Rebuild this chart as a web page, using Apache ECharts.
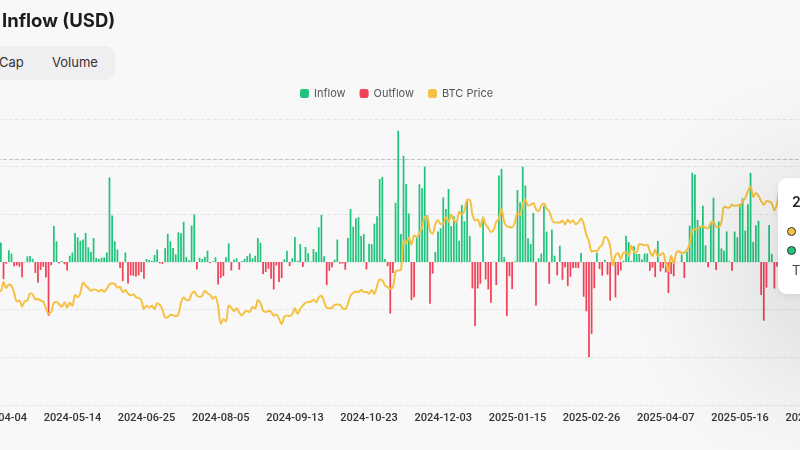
<!DOCTYPE html>
<html>
<head>
<meta charset="utf-8">
<script src="https://cdn.jsdelivr.net/npm/echarts@6/dist/echarts.min.js"></script>
<style>
  html, body { margin:0; padding:0; width:800px; height:450px; overflow:hidden; background:#f8f8f8; font-family: Inter, "Noto Sans", sans-serif; }
  #title { position:absolute; left:2px; top:9px; font-size:18.5px; font-weight:700; color:#1c1c1c; }
  #tabs { position:absolute; left:-70px; top:46px; width:185px; height:34px; background:#efeff1; border-radius:9px; }
  .tab { position:absolute; top:54px; font-size:13px; color:#333; }
  #chart { position:absolute; left:-40px; top:0; width:900px; height:450px; }
  #tip { position:absolute; left:778px; top:178px; width:190px; height:116px; background:#fff; border-radius:9px;
         box-shadow: 0 40px 140px 40px rgba(0,0,0,0.12), 0 2px 8px rgba(0,0,0,0.08); font-size:13px; color:#222; }
  #tip .d { position:absolute; left:14px; top:15px; font-size:14px; font-weight:600; }
  #tip .row { position:absolute; left:9px; }
  #tip .dot { display:inline-block; width:7px; height:7px; border-radius:50%; border:1.5px solid #333; vertical-align:middle; margin-right:8px; }
  #tip .t { position:absolute; left:14px; top:84px; font-size:13px; color:#444; }
</style>
</head>
<body>
<div id="chart"></div>
<div id="title">Inflow (USD)</div>
<div id="tabs"></div>
<div class="tab" style="left:-1px">Cap</div>
<div class="tab" style="left:52px">Volume</div>
<div id="tip">
  <div class="d">2025-06-05</div>
  <div class="row" style="top:44px"><span class="dot" style="background:#f5c142"></span>BTC Price</div>
  <div class="row" style="top:63px"><span class="dot" style="background:#22c47d"></span>Inflow</div>
  <div class="t">Total</div>
</div>
<script>
// Trading days (US spot BTC ETF flow dates)
const categories = [
"2024-04-04","2024-04-05","2024-04-08","2024-04-09","2024-04-10","2024-04-11","2024-04-12","2024-04-15","2024-04-16","2024-04-17","2024-04-18","2024-04-19","2024-04-22","2024-04-23","2024-04-24","2024-04-25","2024-04-26","2024-04-29","2024-04-30",
"2024-05-01","2024-05-02","2024-05-03","2024-05-06","2024-05-07","2024-05-08","2024-05-09","2024-05-10","2024-05-13","2024-05-14","2024-05-15","2024-05-16","2024-05-17","2024-05-20","2024-05-21","2024-05-22","2024-05-23","2024-05-24","2024-05-28","2024-05-29","2024-05-30","2024-05-31",
"2024-06-03","2024-06-04","2024-06-05","2024-06-06","2024-06-07","2024-06-10","2024-06-11","2024-06-12","2024-06-13","2024-06-14","2024-06-17","2024-06-18","2024-06-20","2024-06-21","2024-06-24","2024-06-25","2024-06-26","2024-06-27","2024-06-28",
"2024-07-01","2024-07-02","2024-07-03","2024-07-05","2024-07-08","2024-07-09","2024-07-10","2024-07-11","2024-07-12","2024-07-15","2024-07-16","2024-07-17","2024-07-18","2024-07-19","2024-07-22","2024-07-23","2024-07-24","2024-07-25","2024-07-26","2024-07-29","2024-07-30","2024-07-31",
"2024-08-01","2024-08-02","2024-08-05","2024-08-06","2024-08-07","2024-08-08","2024-08-09","2024-08-12","2024-08-13","2024-08-14","2024-08-15","2024-08-16","2024-08-19","2024-08-20","2024-08-21","2024-08-22","2024-08-23","2024-08-26","2024-08-27","2024-08-28","2024-08-29","2024-08-30",
"2024-09-03","2024-09-04","2024-09-05","2024-09-06","2024-09-09","2024-09-10","2024-09-11","2024-09-12","2024-09-13","2024-09-16","2024-09-17","2024-09-18","2024-09-19","2024-09-20","2024-09-23","2024-09-24","2024-09-25","2024-09-26","2024-09-27","2024-09-30",
"2024-10-01","2024-10-02","2024-10-03","2024-10-04","2024-10-07","2024-10-08","2024-10-09","2024-10-10","2024-10-11","2024-10-14","2024-10-15","2024-10-16","2024-10-17","2024-10-18","2024-10-21","2024-10-22","2024-10-23","2024-10-24","2024-10-25","2024-10-28","2024-10-29","2024-10-30","2024-10-31",
"2024-11-01","2024-11-04","2024-11-05","2024-11-06","2024-11-07","2024-11-08","2024-11-11","2024-11-12","2024-11-13","2024-11-14","2024-11-15","2024-11-18","2024-11-19","2024-11-20","2024-11-21","2024-11-22","2024-11-25","2024-11-26","2024-11-27","2024-11-29",
"2024-12-02","2024-12-03","2024-12-04","2024-12-05","2024-12-06","2024-12-09","2024-12-10","2024-12-11","2024-12-12","2024-12-13","2024-12-16","2024-12-17","2024-12-18","2024-12-19","2024-12-20","2024-12-23","2024-12-24","2024-12-26","2024-12-27","2024-12-30","2024-12-31",
"2025-01-02","2025-01-03","2025-01-06","2025-01-07","2025-01-08","2025-01-10","2025-01-13","2025-01-14","2025-01-15","2025-01-16","2025-01-17","2025-01-21","2025-01-22","2025-01-23","2025-01-24","2025-01-27","2025-01-28","2025-01-29","2025-01-30","2025-01-31",
"2025-02-03","2025-02-04","2025-02-05","2025-02-06","2025-02-07","2025-02-10","2025-02-11","2025-02-12","2025-02-13","2025-02-14","2025-02-18","2025-02-19","2025-02-20","2025-02-21","2025-02-24","2025-02-25","2025-02-26","2025-02-27","2025-02-28",
"2025-03-03","2025-03-04","2025-03-05","2025-03-06","2025-03-07","2025-03-10","2025-03-11","2025-03-12","2025-03-13","2025-03-14","2025-03-17","2025-03-18","2025-03-19","2025-03-20","2025-03-21","2025-03-24","2025-03-25","2025-03-26","2025-03-27","2025-03-28","2025-03-31",
"2025-04-01","2025-04-02","2025-04-03","2025-04-04","2025-04-07","2025-04-08","2025-04-09","2025-04-10","2025-04-11","2025-04-14","2025-04-15","2025-04-16","2025-04-17","2025-04-21","2025-04-22","2025-04-23","2025-04-24","2025-04-25","2025-04-28","2025-04-29","2025-04-30",
"2025-05-01","2025-05-02","2025-05-05","2025-05-06","2025-05-07","2025-05-08","2025-05-09","2025-05-12","2025-05-13","2025-05-14","2025-05-15","2025-05-16","2025-05-19","2025-05-20","2025-05-21","2025-05-22","2025-05-23","2025-05-27","2025-05-28","2025-05-29","2025-05-30",
"2025-06-02","2025-06-03","2025-06-04","2025-06-05","2025-06-06","2025-06-09","2025-06-10","2025-06-11","2025-06-12","2025-06-13","2025-06-16","2025-06-17","2025-06-18","2025-06-20","2025-06-23","2025-06-24","2025-06-25","2025-06-26","2025-06-27","2025-06-30"
];

// Daily net flow, USD millions
const netFlow = [
113,205,-180,-18,124,89,-45,-36,-50,-161,
-3,60,62,35,-115,-218,-84,-50,-162,-564,
-34,378,217,-15,10,-25,-88,66,100,303,
257,222,237,305,154,108,252,42,31,45,
49,101,887,488,217,131,-64,-200,100,-226,
-140,-145,-152,-140,-106,-175,31,21,12,73,
129,-14,-20,143,295,216,147,79,310,301,
422,53,19,383,500,-78,44,31,55,119,
-12,8,50,-237,-168,-148,50,195,-89,27,
39,-81,11,33,62,88,39,65,252,202,
-127,-105,-71,-175,-288,-37,-211,-169,28,117,
-43,39,263,13,187,-52,158,92,4,136,
106,365,494,61,-242,-92,-54,25,235,-18,
-16,-81,253,556,371,458,470,273,294,-79,
192,188,402,479,870,893,31,-45,-541,-116,
621,1376,294,1114,817,510,-400,-370,255,816,
773,1000,490,-438,-122,105,320,353,676,556,
766,376,479,438,223,597,428,637,275,-277,
-672,-277,-227,475,-183,-288,-427,5,-242,908,
978,52,-568,-150,-284,7,755,626,1000,802,
248,188,514,-458,40,88,588,319,-228,340,
66,-140,171,-186,-56,-251,-156,-63,-60,-65,
94,-365,-516,-1000,-754,-276,95,-74,-143,22,
-133,-406,-28,-371,-140,-88,13,275,209,11,
165,84,84,27,89,89,-93,-60,-158,220,
-99,-64,-109,-326,-127,-150,1,1,76,-169,
107,381,936,917,442,380,591,173,-56,422,
675,-85,425,142,117,321,7,-91,319,260,
608,667,329,607,934,211,385,432,-346,-616,
-268,387,87,-278,-48,386,431,164,197,322,
412,216,389
];

// BTC price, USD thousands
const btcPrice = [
68.5,67.8,71.6,69.1,70.6,70.0,67.2,63.4,63.8,61.3,
63.5,63.8,66.8,66.4,64.3,64.5,63.8,63.4,60.6,58.3,
59.1,62.9,63.2,62.3,61.2,63.1,60.8,62.9,61.6,66.3,
65.2,67.0,71.4,70.1,69.1,67.9,68.5,68.4,67.6,68.4,
67.5,68.8,70.6,71.1,70.8,69.3,69.5,67.3,68.2,66.8,
66.0,66.5,65.2,64.9,64.1,60.3,61.8,60.9,61.6,60.3,
62.7,62.0,60.2,56.7,56.7,57.9,57.7,57.3,57.9,62.9,
65.1,64.1,63.9,66.7,67.6,65.9,65.4,65.8,67.9,66.8,
66.2,64.6,65.4,61.5,54.0,56.0,55.1,61.7,60.8,59.4,
60.6,58.7,57.6,58.9,59.4,59.0,61.2,60.4,64.1,62.9,
59.5,59.0,59.4,59.1,57.5,58.0,56.2,53.9,57.0,57.6,
57.3,58.1,60.6,58.2,60.3,61.7,62.9,63.2,63.3,64.3,
63.1,65.2,65.8,63.3,60.8,60.6,60.7,62.1,62.2,62.1,
60.6,60.3,62.4,66.0,67.0,67.6,67.4,68.4,67.4,67.4,
66.7,68.2,66.6,69.9,72.7,72.3,70.2,69.5,68.8,69.4,
75.9,76.5,76.7,88.7,88.0,90.4,87.3,91.1,90.5,92.3,
94.3,98.9,98.9,93.0,91.9,95.9,97.5,95.9,96.0,98.8,
97.0,99.9,97.4,96.7,101.2,100.0,101.5,106.1,106.1,100.0,
97.5,97.8,94.7,98.7,95.8,94.2,92.6,93.4,96.9,98.1,
102.1,96.9,95.0,94.7,94.5,96.5,100.5,99.8,104.5,106.1,
103.7,104.0,104.8,102.1,101.3,103.7,104.7,102.4,101.4,97.9,
96.6,96.6,96.5,97.4,95.7,97.8,96.6,97.5,95.8,96.6,
98.3,96.1,91.4,88.7,84.3,84.7,84.4,86.2,87.2,90.6,
89.9,86.7,78.5,82.9,83.7,81.1,83.9,84.0,82.7,86.8,
84.2,84.0,87.5,87.4,86.9,87.2,84.4,82.5,85.2,82.5,
83.1,83.8,79.2,76.3,82.6,79.6,84.0,84.5,83.6,84.0,
84.9,87.5,93.4,93.7,93.9,94.7,95.0,94.3,94.2,96.5,
96.9,94.7,94.7,96.8,103.2,102.9,102.8,104.1,103.5,103.8,
103.4,105.6,106.8,109.7,111.7,107.3,108.9,107.8,105.6,103.9,
105.6,105.4,104.7,101.6,104.4,110.3,110.3,108.7,105.9,106.1,
107.0,104.6,104.9
];

const flowTicks = { min: -1500, max: 1500, step: 500 };     // USD millions
const priceTicks = { min: 20000, max: 140000, step: 20000 }; // USD
const pointerValue = 1080;

const inflow = netFlow.map(v => v > 0 ? v : '-');
const outflow = netFlow.map(v => v < 0 ? v : '-');
const price = btcPrice.map(v => v * 1000);

const GREEN = '#22c47d', RED = '#f0435a', GOLD = '#f5c142';

const chart = echarts.init(document.getElementById('chart'), null, { renderer: 'canvas' });
chart.setOption({
  animation: false,
  backgroundColor: 'transparent',
  legend: {
    top: 83, left: 335,
    icon: 'roundRect', itemWidth: 9, itemHeight: 9, itemGap: 14,
    textStyle: { color: '#555', fontSize: 11, fontFamily: 'Inter' },
    data: ['Inflow', 'Outflow', 'BTC Price']
  },
  grid: { left: 36.9, right: 41.9, top: 119, bottom: 45 },
  xAxis: {
    type: 'category', data: categories, boundaryGap: true,
    axisLine: { show: false, onZero: false },
    axisTick: { show: false },
    axisLabel: { interval: 27, color: '#333', fontSize: 11, fontWeight: 500, fontFamily: 'Roboto', margin: 8, hideOverlap: false }
  },
  yAxis: [
    { type: 'value', min: flowTicks.min, max: flowTicks.max, interval: flowTicks.step,
      axisLabel: { show: false }, axisLine: { show: false }, axisTick: { show: false },
      splitLine: { lineStyle: { color: '#e4e4e4', type: 'dashed', width: 1 } } },
    { type: 'value', min: priceTicks.min, max: priceTicks.max, interval: priceTicks.step,
      axisLabel: { show: false }, axisLine: { show: false }, axisTick: { show: false },
      splitLine: { show: false } }
  ],
  series: [
    { name: 'Inflow', type: 'bar', stack: 'flow', data: inflow, barWidth: '66%',
      itemStyle: { color: GREEN },
      markLine: { silent: true, symbol: ['none','none'], label: { show: false },
        lineStyle: { color: '#c4c4c4', type: 'dashed', width: 1 }, data: [{ yAxis: pointerValue }] } },
    { name: 'Outflow', type: 'bar', stack: 'flow', data: outflow, barWidth: '66%',
      itemStyle: { color: RED } },
    { name: 'BTC Price', type: 'line', yAxisIndex: 1, data: price, smooth: 0.3,
      showSymbol: false, symbol: 'none', z: 5,
      lineStyle: { color: GOLD, width: 2 }, itemStyle: { color: GOLD } }
  ]
});
</script>
</body>
</html>
